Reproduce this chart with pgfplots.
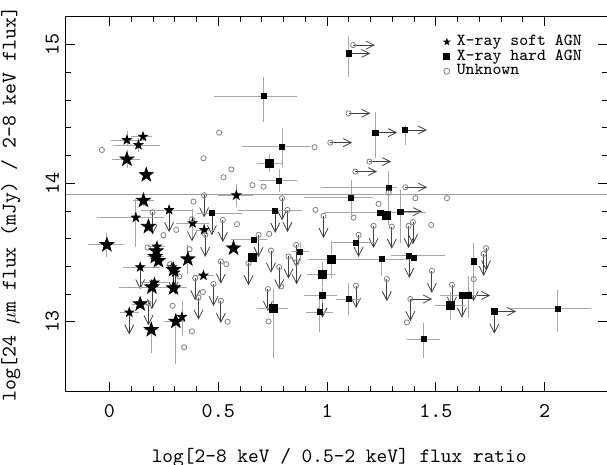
\documentclass[border=0pt]{standalone}
\usepackage{pgfplots}
\usepackage{pgfplotstable}
\pgfplotsset{compat=1.18}
\usetikzlibrary{arrows.meta,calc}

% filled five-pointed star
\pgfdeclareplotmark{fstar}{%
  \pgfpathmoveto{\pgfpointpolar{90}{\pgfplotmarksize}}%
  \pgfpathlineto{\pgfpointpolar{126}{0.4\pgfplotmarksize}}%
  \pgfpathlineto{\pgfpointpolar{162}{\pgfplotmarksize}}%
  \pgfpathlineto{\pgfpointpolar{198}{0.4\pgfplotmarksize}}%
  \pgfpathlineto{\pgfpointpolar{234}{\pgfplotmarksize}}%
  \pgfpathlineto{\pgfpointpolar{270}{0.4\pgfplotmarksize}}%
  \pgfpathlineto{\pgfpointpolar{306}{\pgfplotmarksize}}%
  \pgfpathlineto{\pgfpointpolar{342}{0.4\pgfplotmarksize}}%
  \pgfpathlineto{\pgfpointpolar{18}{\pgfplotmarksize}}%
  \pgfpathlineto{\pgfpointpolar{54}{0.4\pgfplotmarksize}}%
  \pgfpathclose\pgfusepathqfillstroke}

% x y xm xp ym yp
\pgfplotstableread{
x y xm xp ym yp
0.080 14.312 0.066 0.061 0.032 0.048
0.154 14.336 0.044 0.033 0.020 0.020
0.133 14.276 0.110 0.088 0.035 0.035
0.274 13.807 0.118 0.094 0 0
0.121 13.752 0.168 0.120 0.200 0.120
0.382 13.712 0.065 0.065 0.090 0.090
0.218 13.543 0.030 0.030 0.030 0.030
0.141 13.394 0.070 0.080 0 0
0.287 13.394 0 0 0 0
0.207 13.283 0.053 0.053 0 0
0.302 13.356 0 0 0 0
0.432 13.334 0.040 0.040 0 0
0.091 13.067 0.035 0.035 0 0
0.333 13.034 0 0 0.120 0.100
0.583 13.913 0.077 0.067 0.070 0.070
0.435 13.663 0.030 0.030 0.030 0.030
}\softsmall

\pgfplotstableread{
x y xm xp ym yp
0.080 14.173 0.058 0.053 0.046 0.050
0.169 14.060 0 0 0 0
0.156 13.875 0.040 0.040 0.027 0.027
0.179 13.687 0 0 0 0
-0.012 13.555 0.077 0.069 0.070 0.070
0.210 13.470 0.030 0.030 0.040 0.040
0.360 13.452 0 0 0.090 0.090
0.195 13.250 0.140 0.150 0 0
0.294 13.375 0 0 0 0
0.294 13.243 0 0 0 0
0.141 13.128 0.030 0.030 0 0
0.192 12.942 0.023 0.023 0.150 0.035
0.305 13.002 0.045 0.035 0.290 0.045
0.570 13.531 0 0 0 0
0.215 13.510 0 0 0 0
0.225 13.440 0 0 0 0
}\softbig

\pgfplotstableread{
x y xm xp ym yp
1.099 14.937 0 0 0.157 0.108
0.708 14.629 0.219 0.145 0.173 0.121
1.222 14.365 0 0 0.170 0.138
1.359 14.384 0 0 0.096 0.020
0.794 14.264 0.178 0.121 0.130 0.120
0.780 14.019 0.083 0.073 0.070 0.070
1.110 13.896 0.206 0.090 0.110 0.110
0.471 13.784 0.060 0.130 0 0
0.762 13.802 0.160 0.115 0 0
0.665 13.591 0.098 0.050 0 0
0.877 13.507 0.030 0.030 0.055 0.055
0.979 13.190 0.075 0.058 0.040 0.040
0.966 13.070 0.055 0.054 0.130 0.090
1.099 13.164 0.050 0.050 0.100 0.100
1.283 13.968 0.300 0.030 0.252 0.108
1.245 13.788 0.250 0.200 0 0
1.337 13.795 0 0 0.210 0.140
1.134 13.572 0.100 0.080 0 0
1.252 13.452 0.150 0.115 0.110 0
1.378 13.476 0.075 0.155 0 0
1.398 13.459 0 0 0 0
1.674 13.435 0 0 0.230 0.120
1.444 12.875 0.065 0.065 0.125 0.100
1.620 13.190 0.090 0.062 0 0
1.650 13.190 0 0 0.152 0.124
1.769 13.074 0 0 0 0
2.060 13.094 0.203 0.142 0.157 0.120
}\hardsmall

\pgfplotstableread{
x y xm xp ym yp
0.736 14.144 0.050 0.050 0.050 0.050
0.657 13.467 0 0 0 0
1.018 13.452 0.095 0.089 0.120 0.120
0.754 13.094 0.069 0.058 0.340 0.127
0.979 13.339 0.061 0.048 0.075 0.075
1.275 13.771 0 0 0 0
1.567 13.115 0.060 0.060 0.085 0.085
}\hardbig

\pgfplotstableread{
x y
1.120 14.997
1.099 14.505
1.015 14.293
0.504 14.365
0.943 14.260
0.432 14.180
0.560 14.100
0.524 14.043
0.657 13.986
0.708 13.975
0.435 13.913
0.386 13.867
0.198 13.790
0.307 13.663
0.379 13.740
0.248 13.625
0.175 13.536
0.368 13.524
0.279 13.416
0.320 13.327
0.394 13.315
0.429 13.214
0.409 13.175
0.179 13.135
0.290 13.115
0.379 12.930
0.343 12.815
-0.035 14.240
0.521 13.735
0.586 13.704
0.440 13.627
0.685 13.627
0.734 13.634
0.858 13.555
0.823 13.471
0.742 13.514
0.639 13.423
0.512 13.435
0.537 13.416
0.947 13.807
0.984 13.764
0.793 13.892
0.818 13.807
0.478 13.272
0.512 13.151
0.543 13.000
0.780 13.394
0.789 13.255
0.728 13.236
0.731 13.002
1.195 14.156
1.130 14.084
1.283 13.932
1.360 13.971
1.406 13.892
1.551 13.892
1.237 13.851
1.122 13.752
1.214 13.692
1.298 13.687
1.375 13.692
1.395 13.719
1.479 13.699
1.145 13.627
1.731 13.531
1.720 13.490
1.133 13.260
1.275 13.308
1.482 13.368
1.383 13.164
1.367 12.995
1.574 13.267
1.674 13.308
0.860 13.430
}\unknown

% upper limits (arrow down)
\pgfplotstableread{
x y
0.274 13.807
0.141 13.394
0.195 13.250
0.294 13.375
0.302 13.356
0.091 13.067
0.471 13.784
0.762 13.802
0.979 13.190
1.378 13.476
1.620 13.190
1.769 13.074
0.435 13.913
0.198 13.790
0.379 13.740
0.394 13.315
0.409 13.175
0.179 13.135
0.521 13.735
0.440 13.627
0.685 13.627
0.858 13.555
0.823 13.471
0.742 13.514
0.639 13.423
0.512 13.435
0.984 13.764
0.793 13.892
0.818 13.807
0.478 13.272
0.512 13.151
0.780 13.394
0.728 13.236
1.214 13.692
1.298 13.687
1.375 13.692
1.395 13.719
1.145 13.627
1.731 13.531
1.720 13.490
1.133 13.260
1.275 13.308
1.482 13.368
1.383 13.164
1.574 13.267
1.674 13.308
0.860 13.430
}\downlim

% lower limits (arrow right)
\pgfplotstableread{
x y
1.099 14.937
1.222 14.365
1.359 14.384
1.337 13.795
1.650 13.190
1.769 13.074
1.120 14.997
1.099 14.505
1.015 14.293
1.195 14.156
1.130 14.084
1.360 13.971
1.383 13.164
}\rightlim

\begin{document}
\begin{tikzpicture}
\begin{axis}[
  scale only axis,
  width=270.5pt, height=187pt,
  xmin=-0.2, xmax=2.287, ymin=12.5, ymax=15.2,
  xtick={0,0.5,1,1.5,2}, ytick={13,14,15},
  minor x tick num=4, minor y tick num=4,
  tick align=inside, xtick pos=both, ytick pos=both,
  xticklabel pos=lower, yticklabel pos=left,
  major tick length=4.5pt, minor tick length=2.5pt,
  every tick/.style={black, line width=0.4pt},
  axis line style={line width=0.5pt},
  /pgf/number format/assume math mode=true,
  ticklabel style={font=\ttfamily\fontsize{10.5}{12}\selectfont},
  xticklabel style={yshift=-3pt},
  yticklabel style={rotate=90, anchor=south},
  xlabel={log[2\textendash8 keV / 0.5\textendash2 keV] flux ratio},
  ylabel={log[24 $\mu$m flux (mJy) / 2\textendash8 keV flux]},
  every axis x label/.style={at={(axis description cs:0.505,-0.19)}, anchor=base,
    font=\ttfamily\fontsize{10.2}{12}\selectfont},
  every axis y label/.style={at={(axis description cs:-0.102,0.5)}, rotate=90, anchor=center,
    font=\ttfamily\fontsize{10.4}{12}\selectfont},
  legend style={draw=none, fill=none, at={(axis cs:1.535,15.075)}, anchor=north west,
    font=\ttfamily\fontsize{8.4}{9}\selectfont, row sep=0pt, column sep=3.5pt, inner sep=0pt,
    nodes={inner sep=0pt, text height=5.4pt, text depth=1.9pt}},
  legend cell align=left,
  legend image code/.code={\draw[#1, mark size=1.5pt] plot coordinates {(0cm,0cm)};},
  error bars/error bar style={gray!70, line width=0.4pt},
  error bars/error mark options={gray!70, line width=0.4pt, mark size=1pt},
]
% reference level
\addplot[forget plot, gray!75, line width=0.6pt] coordinates {(-0.2,13.92) (2.287,13.92)};

% arrows for limits
\addplot[forget plot, black!75, line width=0.4pt, quiver={u=0, v=-0.16},
  -{Straight Barb[length=4.5pt, width=4.5pt, line width=0.4pt]}] table[x=x, y=y] {\downlim};
\addplot[forget plot, black!75, line width=0.4pt, quiver={u=0.1, v=0},
  -{Straight Barb[length=4pt, width=4pt, line width=0.4pt]}] table[x=x, y=y] {\rightlim};

\addplot[only marks, mark=fstar, mark size=2.3pt, black,
  error bars/.cd, x dir=both, x explicit, y dir=both, y explicit]
  table[x=x, y=y, x error minus=xm, x error plus=xp, y error minus=ym, y error plus=yp] {\softsmall};
\addlegendentry{X\textendash ray soft AGN}

\addplot[only marks, mark=square*, mark size=1.3pt, black,
  error bars/.cd, x dir=both, x explicit, y dir=both, y explicit]
  table[x=x, y=y, x error minus=xm, x error plus=xp, y error minus=ym, y error plus=yp] {\hardsmall};
\addlegendentry{X\textendash ray hard AGN}

\addplot[only marks, mark=o, mark size=1.3pt, gray, line width=0.4pt]
  table[x=x, y=y] {\unknown};
\addlegendentry{Unknown}

\addplot[forget plot, only marks, mark=fstar, mark size=3.6pt, black,
  error bars/.cd, x dir=both, x explicit, y dir=both, y explicit]
  table[x=x, y=y, x error minus=xm, x error plus=xp, y error minus=ym, y error plus=yp] {\softbig};

\addplot[forget plot, only marks, mark=square*, mark size=2pt, black,
  error bars/.cd, x dir=both, x explicit, y dir=both, y explicit]
  table[x=x, y=y, x error minus=xm, x error plus=xp, y error minus=ym, y error plus=yp] {\hardbig};

\coordinate (SW) at (rel axis cs:0,0);
\coordinate (NE) at (rel axis cs:1,1);
\end{axis}
\pgfresetboundingbox
\path ($(SW)+(-33pt,-36.5pt)$) rectangle ($(NE)+(0pt,8.5pt)$);
\end{tikzpicture}
\end{document}
